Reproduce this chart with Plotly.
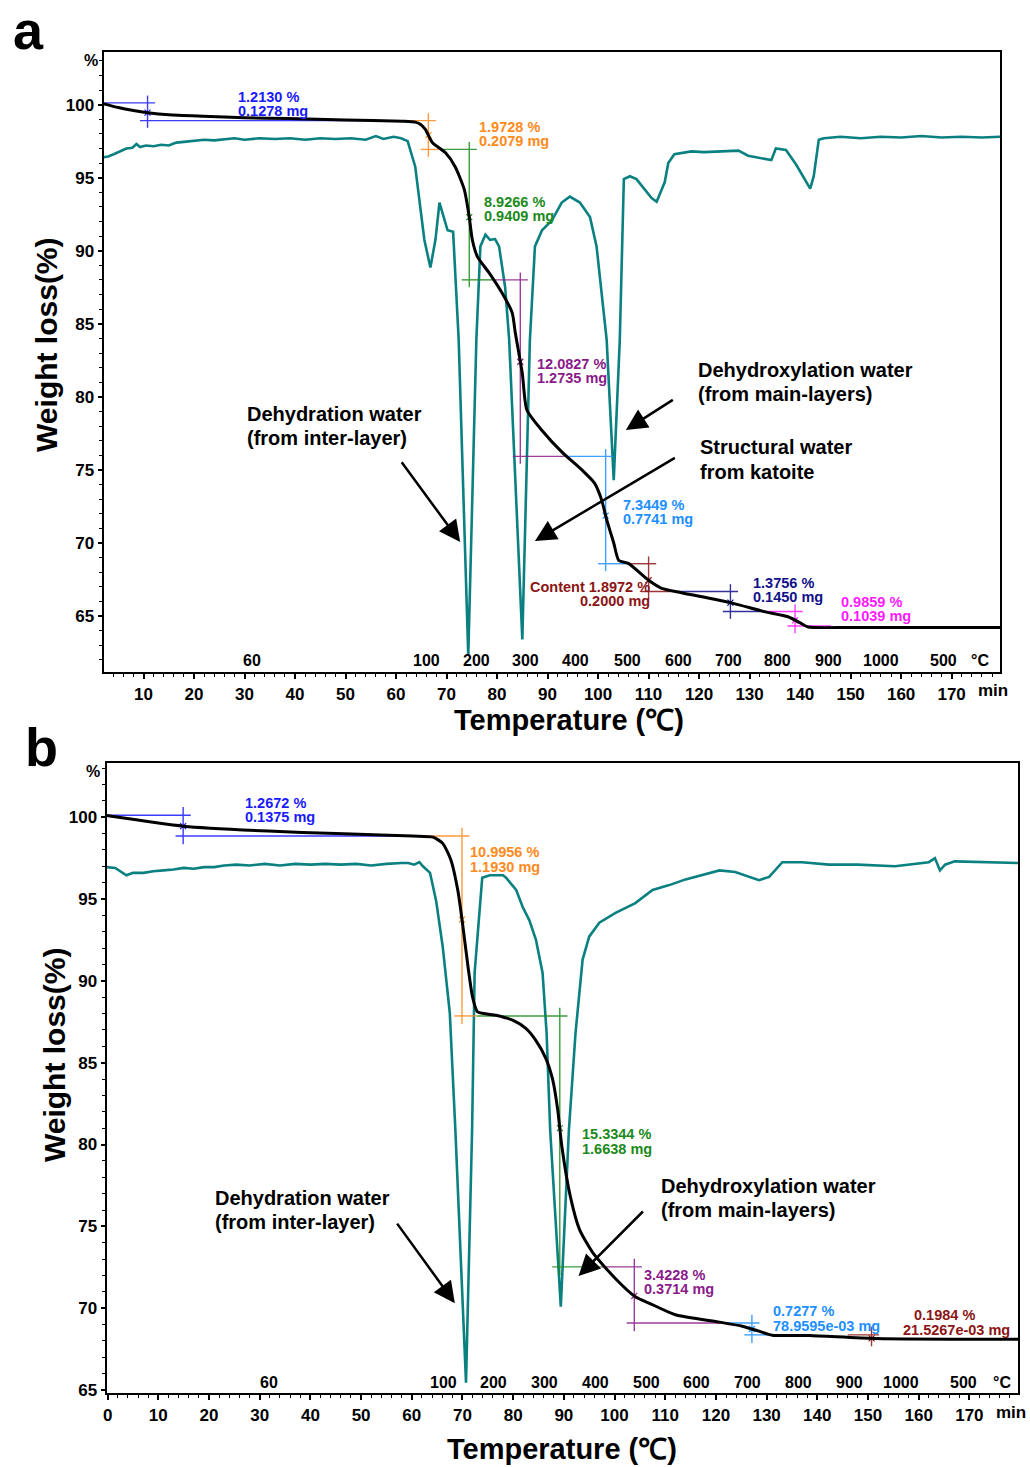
import numpy as np
import plotly.graph_objects as go

FONT = "Liberation Sans, Arial, sans-serif"

# ======================= DATA : panel a =======================
a_tg_time = [2.1, 5, 8, 10.8, 15, 21.8, 30, 38.6, 50, 61.3, 63.8, 64.8, 65.8, 67.2, 69.8, 71.7,
             73.5, 74.5, 75.1, 76.1, 78.4, 81, 83, 83.6, 85, 85.9, 88.9, 92.9, 96.8, 99.3, 100.7,
             101.7, 103.1, 104.1, 106, 110, 112.6, 116.5, 126.4, 132.9, 137.6, 140.2, 141.6,
             150, 179.6]
a_tg_weight = [100.05, 99.8, 99.6, 99.45, 99.3, 99.2, 99.1, 99.05, 98.95, 98.86, 98.8, 98.65,
               98.3, 97.4, 96.7, 95.75, 94.2, 92.3, 90.75, 89.6, 88.5, 87.1, 85.75, 84.4, 81.6,
               79.1, 77.7, 76.2, 75.0, 74.1, 72.95, 71.6, 70.0, 68.8, 68.6, 67.45, 66.9, 66.6,
               65.9, 65.3, 64.95, 64.5, 64.25, 64.22, 64.22]

a_dtg_time = [2.1, 3.0, 4.1, 5.5, 6.6, 7.8, 8.6, 9.3, 10.5, 12.0, 13.5, 15.0, 16.5, 18.0, 20, 22,
              24, 26, 28, 30, 33, 36, 39, 42, 45, 48, 51, 54, 56, 57.5, 59.5, 61, 62.3, 63.8,
              64.8, 65.6, 66.8, 67.8, 68.6, 69.4, 70.2, 71.3, 72.4, 74.3, 75.9, 76.7, 77.7,
              78.6, 79.6, 80.4, 81.6, 82.4, 85.0, 86.5, 87.5, 88.9, 90.9, 92.8, 94.4, 96.4,
              98.4, 99.7, 100.7, 101.7, 103.1, 104.3, 105.1, 106.3, 107.6, 109.2, 110.6, 111.6,
              113.2, 113.9, 115.1, 118.5, 121, 124.4, 127.8, 129.7, 133.3, 134.3, 135.2, 137.2,
              139.2, 141.2, 142.0, 142.7, 143.7, 144.7, 148, 152, 156, 160, 164, 168, 172,
              176, 179.6]
a_dtg_signal = [96.4, 96.45, 96.6, 96.85, 97.0, 97.05, 97.3, 97.1, 97.2, 97.15, 97.25, 97.2,
                97.4, 97.45, 97.55, 97.6, 97.55, 97.65, 97.7, 97.6, 97.7, 97.65, 97.7, 97.6,
                97.7, 97.65, 97.7, 97.6, 97.85, 97.65, 97.8, 97.7, 97.5, 95.75, 93.0, 90.75,
                88.85, 90.75, 93.3, 92.3, 91.4, 91.3, 83.9, 62.3, 83.9, 90.3, 91.1, 90.75,
                90.8, 90.3, 87.5, 83.9, 63.4, 83.9, 90.3, 91.4, 92.1, 93.3, 93.7, 93.3, 92.3,
                90.3, 87.1, 83.9, 74.3, 83.9, 94.9, 95.1, 94.9, 94.2, 93.6, 93.35, 94.7, 96.0,
                96.6, 96.8, 96.75, 96.8, 96.85, 96.5, 96.3, 96.2, 97.0, 96.9, 95.9, 94.65,
                94.25, 95.1, 97.6, 97.7, 97.8, 97.7, 97.8, 97.75, 97.85, 97.75, 97.8, 97.75,
                97.8]

a_step_start_level = 100.12
a_step_pct = [1.2130, 1.9728, 8.9266, 12.0827, 7.3449, 1.8972, 1.3756, 0.9859]
a_step_mg = [0.1278, 0.2079, 0.9409, 1.2735, 0.7741, 0.2000, 0.1450, 0.1039]
a_step_prefix = ["", "", "", "", "", "Content ", "", ""]
a_step_t_from = [-1.0, 61.3, 68.6, 79.0, 93.2, 106.0, 116.5, 132.3]
a_step_t_mid = [10.8, 66.4, 74.5, 84.6, 101.5, 110.0, 126.2, 139.0]
a_step_t_to = [61.3, 68.6, 79.0, 93.2, 106.0, 116.5, 132.3, 146.1]

# ======================= DATA : panel b =======================
b_tg_time = [-0.2, 15, 31.7, 45.1, 60.2, 64.2, 66.1, 67.7, 69.1, 70.1, 71.1, 72.0, 73.0, 76.6,
             79.9, 82.5, 84.4, 86.4, 87.8, 88.8, 89.6, 91.3, 93.1, 95.7, 100.2, 104.1, 106.9,
             112, 120.7, 125.2, 128.5, 131.1, 138.4, 151.4, 180]
b_tg_weight = [100.1, 99.45, 99.15, 99.0, 98.85, 98.78, 98.4, 97.4, 95.5, 93.3, 90.85, 89.0,
               88.1, 87.9, 87.6, 87.1, 86.4, 85.3, 83.96, 82.1, 79.9, 76.8, 74.8, 73.4, 71.8,
               70.7, 70.3, 69.6, 69.15, 68.9, 68.6, 68.35, 68.33, 68.15, 68.1]

b_dtg_time = [-0.2, 1.5, 3.7, 5.0, 7.1, 9, 11, 13, 15, 17, 19, 21, 23, 25.4, 28, 31, 34, 37,
              40, 43, 46, 49, 52, 55, 58, 59.3, 60.5, 61.5, 62.2, 63.6, 64.8, 66.1, 67.5,
              68.6, 70.7, 71.9, 72.4, 73.9, 75.4, 78.0, 78.6, 80.6, 81.9, 83.2, 84.5, 85.8,
              86.6, 87.3, 89.4, 91.0, 92.3, 93.7, 95.0, 97.0, 100.2, 104.1, 107.5, 110.8,
              114.0, 117.3, 120.7, 123.8, 126.6, 128.5, 130.5, 133.1, 137, 142.3, 148, 155.3,
              162, 163.2, 164.2, 165.2, 167.1, 172, 179.7]
b_dtg_signal = [96.95, 96.9, 96.45, 96.6, 96.6, 96.7, 96.75, 96.8, 96.9, 96.85, 96.95, 96.95,
                97.05, 97.1, 97.05, 97.15, 97.05, 97.15, 97.1, 97.15, 97.1, 97.15, 97.05,
                97.15, 97.2, 97.2, 97.1, 97.25, 97.0, 96.6, 94.9, 92.1, 88.05, 80.9, 65.45,
                80.9, 90.5, 96.3, 96.45, 96.45, 96.3, 95.55, 94.5, 93.7, 92.5, 90.5, 86.8,
                80.9, 70.1, 80.9, 86.8, 91.3, 92.7, 93.55, 94.15, 94.75, 95.55, 95.85, 96.2,
                96.45, 96.75, 96.65, 96.35, 96.15, 96.35, 97.25, 97.25, 97.1, 97.1, 97.0,
                97.25, 97.5, 96.75, 97.1, 97.3, 97.25, 97.2]

b_step_start_level = 100.12
b_step_pct = [1.2672, 10.9956, 15.3344, 3.4228, 0.7277, 0.1984]
b_step_mg = [0.1375, 1.1930, 1.6638, 0.3714, 0.0789595, 0.0215267]
b_step_prefix = ["", "", "", "", "", ""]
b_step_t_from = [-1.0, 60.1, 72.9, 97.4, 121.0, 146.0]
b_step_t_mid = [14.9, 69.9, 89.2, 103.9, 127.1, 150.7]
b_step_t_to = [60.1, 72.9, 97.4, 121.0, 130.8, 152.5]

# temperature scale labels (time position in min)
temp_text = ["60", "100", "200", "300", "400", "500", "600", "700", "800", "900", "1000",
             "500", "°C"]
a_temp_time = [31.5, 66.0, 75.9, 85.7, 95.6, 105.9, 115.9, 125.8, 135.6, 145.7, 156.0, 168.4,
               175.7]
b_temp_time = [31.9, 66.3, 76.2, 86.2, 96.3, 106.3, 116.1, 126.2, 136.2, 146.3, 156.5, 168.9,
               176.4]

time_ticks_a = list(range(10, 180, 10))
time_ticks_b = list(range(0, 180, 10))
weight_ticks = [65, 70, 75, 80, 85, 90, 95, 100]

# ======================= STYLE =======================
a_colors = ["#1a1aff", "#ff8a1c", "#1b8a1b", "#8a1a8a", "#1e8fff", "#8b1414", "#10108a",
            "#ff1aff"]
b_colors = ["#1a1aff", "#ff8a1c", "#1b8a1b", "#8a1a8a", "#1e8fff", "#8b1414"]
TEAL = "#0a8080"

# label positions (time, weight) for "pct" line and "mg" line
a_lab_x1 = [28.3, 76.1, 77.1, 87.5, 104.5, 110.6, 130.3, 147.7]
a_lab_x2 = a_lab_x1
a_lab_y1 = [100.55, 98.49, 93.36, 82.26, 72.6, 66.99, 67.26, 65.96]
a_lab_y2 = [99.59, 97.53, 92.4, 81.3, 71.64, 66.03, 66.3, 65.0]
a_lab_anchor = ["left", "left", "left", "left", "left", "right", "left", "left"]

b_lab_x1 = [26.7, 71.1, 93.1, 105.5, 130.8, 158.7]
b_lab_x2 = [26.7, 71.1, 93.1, 105.5, 130.8, 156.6]
b_lab_y1 = [100.86, 97.86, 80.64, 72.02, 69.82, 69.58]
b_lab_y2 = [100.0, 96.95, 79.72, 71.17, 68.91, 68.66]
b_lab_anchor = ["left"] * 6


def mg_text(v):
    if v < 0.1:
        return f"{v * 1000:.4f}e-03 mg"
    return f"{v:.4f} mg"


fig = go.Figure()


def add_panel(xa, ya, tg_t, tg_w, dtg_t, dtg_s, start, pct, t_from, t_mid, t_to, colors):
    xs = "x" if xa == 1 else f"x{xa}"
    ys = "y" if ya == 1 else f"y{ya}"
    fig.add_trace(go.Scatter(x=dtg_t, y=dtg_s, mode="lines", xaxis=xs, yaxis=ys,
                             line=dict(color=TEAL, width=2.6), hoverinfo="skip"))
    level = start
    ext_t, ext_y = 1.5, 0.5
    for i in range(len(pct)):
        up = level
        lo = level - pct[i]
        fig.add_trace(go.Scatter(
            x=[t_from[i], t_mid[i] + ext_t, None, t_mid[i], t_mid[i], None,
               t_mid[i] - ext_t, t_to[i]],
            y=[up, up, None, up + ext_y, lo - ext_y, None, lo, lo],
            mode="lines", xaxis=xs, yaxis=ys, opacity=0.85,
            line=dict(color=colors[i], width=1.4), hoverinfo="skip"))
        ym = float(np.interp(t_mid[i], tg_t, tg_w))
        fig.add_trace(go.Scatter(x=[t_mid[i]], y=[ym], mode="markers", xaxis=xs, yaxis=ys,
                                 marker=dict(symbol="x-thin", size=6, color=colors[i],
                                             line=dict(width=1.2, color=colors[i])),
                                 hoverinfo="skip"))
        level = lo
    fig.add_trace(go.Scatter(x=tg_t, y=tg_w, mode="lines", xaxis=xs, yaxis=ys,
                             line=dict(color="black", width=3, shape="spline", smoothing=0.6),
                             hoverinfo="skip"))


add_panel(1, 1, a_tg_time, a_tg_weight, a_dtg_time, a_dtg_signal, a_step_start_level,
          a_step_pct, a_step_t_from, a_step_t_mid, a_step_t_to, a_colors)
add_panel(2, 2, b_tg_time, b_tg_weight, b_dtg_time, b_dtg_signal, b_step_start_level,
          b_step_pct, b_step_t_from, b_step_t_mid, b_step_t_to, b_colors)

# page body margin is removed by post_script, so the figure fills the page
W, H = 1030, 1467
SY = 0.995   # observed vertical scale of the captured page


def px_x(p):
    return p / W


def px_y(p):
    return 1 - p / (H * SY)


xa_dom = [px_x(100), px_x(1000)]
ya_dom = [px_y(672), px_y(52)]
xb_dom = [px_x(103), px_x(1018)]
yb_dom = [px_y(1393), px_y(763)]

tickfont = dict(family=FONT, size=17, color="black", weight="bold")

common_x = dict(showline=True, mirror=True, linecolor="black", linewidth=2, ticks="outside",
                ticklen=5, tickwidth=1.5, tickcolor="black", showgrid=False, zeroline=False,
                tickfont=tickfont,
                minor=dict(dtick=2, tick0=0, ticks="outside", ticklen=3, tickcolor="black",
                           tickwidth=1))
common_y = dict(showline=True, mirror=True, linecolor="black", linewidth=2, ticks="outside",
                ticklen=4, tickwidth=1.5, tickcolor="black", showgrid=False, zeroline=False,
                tickfont=tickfont, tickvals=weight_ticks,
                minor=dict(dtick=1, tick0=0, ticks="outside", ticklen=3, tickcolor="black",
                           tickwidth=1))

fig.update_layout(
    width=W, height=H, autosize=False,
    margin=dict(l=0, r=0, t=0, b=0),
    paper_bgcolor="white", plot_bgcolor="white", showlegend=False,
    xaxis=dict(domain=xa_dom, anchor="y", range=[2.1, 179.6], tickvals=time_ticks_a,
               **common_x),
    yaxis=dict(domain=ya_dom, anchor="x", range=[61.16, 103.6], **common_y),
    xaxis2=dict(domain=xb_dom, anchor="y2", range=[-0.2, 179.6], tickvals=time_ticks_b,
                **common_x),
    yaxis2=dict(domain=yb_dom, anchor="x2", range=[64.8, 103.3], **common_y),
)

ann = []


def txt(x, y, text, size, xref="paper", yref="paper", xanchor="center", yanchor="middle",
        color="black", angle=0, yshift=0):
    ann.append(dict(x=x, y=y, xref=xref, yref=yref, text=text, showarrow=False,
                    xanchor=xanchor, yanchor=yanchor, textangle=angle, yshift=yshift,
                    font=dict(family=FONT, size=size, color=color, weight="bold")))


# temperature scale row just above each time axis
for t, s in zip(a_temp_time, temp_text):
    txt(t, 0, s, 16, xref="x", yref="y domain", yanchor="bottom", yshift=1)
for t, s in zip(b_temp_time, temp_text):
    txt(t, 0, s, 16, xref="x2", yref="y2 domain", yanchor="bottom", yshift=0)

# panel letters
txt(px_x(25), px_y(30), "a", 54)
txt(px_x(38), px_y(747), "b", 54)
# axis titles
txt(px_x(42), px_y(345), "Weight loss(%)", 30, angle=-90)
txt(px_x(50), px_y(1055), "Weight loss(%)", 30, angle=-90)
txt(px_x(567), px_y(720), "Temperature (℃)", 29)
txt(px_x(560), px_y(1449), "Temperature (℃)", 29)
# unit labels
txt(px_x(87), px_y(60), "%", 16)
txt(px_x(89), px_y(771), "%", 16)
txt(px_x(993), px_y(690), "min", 17)
txt(px_x(1011), px_y(1412), "min", 17)


# step labels
def step_labels(xr, yr, pct, mg, prefix, x1, x2, y1, y2, anchors, colors):
    for i in range(len(pct)):
        txt(x1[i], y1[i], f"{prefix[i]}{pct[i]:.4f} %", 14.5, xref=xr, yref=yr,
            xanchor=anchors[i], color=colors[i])
        txt(x2[i], y2[i], mg_text(mg[i]), 14.5, xref=xr, yref=yr, xanchor=anchors[i],
            color=colors[i])


step_labels("x", "y", a_step_pct, a_step_mg, a_step_prefix, a_lab_x1, a_lab_x2, a_lab_y1,
            a_lab_y2, a_lab_anchor, a_colors)
step_labels("x2", "y2", b_step_pct, b_step_mg, b_step_prefix, b_lab_x1, b_lab_x2, b_lab_y1,
            b_lab_y2, b_lab_anchor, b_colors)

# descriptive labels
txt(30.1, 78.84, "Dehydration water", 20, xref="x", yref="y", xanchor="left")
txt(30.1, 77.19, "(from inter-layer)", 20, xref="x", yref="y", xanchor="left")
txt(119.3, 81.85, "Dehydroxylation water", 20, xref="x", yref="y", xanchor="left")
txt(119.3, 80.2, "(from main-layers)", 20, xref="x", yref="y", xanchor="left")
txt(119.7, 76.58, "Structural water", 20, xref="x", yref="y", xanchor="left")
txt(119.7, 74.86, "from katoite", 20, xref="x", yref="y", xanchor="left")

txt(20.8, 76.73, "Dehydration water", 20, xref="x2", yref="y2", xanchor="left")
txt(20.8, 75.26, "(from inter-layer)", 20, xref="x2", yref="y2", xanchor="left")
txt(108.8, 77.46, "Dehydroxylation water", 20, xref="x2", yref="y2", xanchor="left")
txt(108.8, 75.99, "(from main-layers)", 20, xref="x2", yref="y2", xanchor="left")


def arrow(xr, yr, tip, tail):
    ann.append(dict(x=tip[0], y=tip[1], ax=tail[0], ay=tail[1], xref=xr, yref=yr,
                    axref=xr, ayref=yr, text="", showarrow=True, arrowhead=2,
                    arrowsize=1.7, arrowwidth=2.5, arrowcolor="black", standoff=0))


arrow("x", "y", (72.7, 70.07), (60.9, 75.62))
arrow("x", "y", (105.5, 77.74), (115.1, 79.86))
arrow("x", "y", (87.5, 70.14), (115.5, 75.89))
arrow("x2", "y2", (68.5, 70.31), (56.9, 75.26))
arrow("x2", "y2", (92.9, 71.96), (105.9, 76.0))

fig.update_layout(annotations=ann)
fig.write_html("out.html", config={"displayModeBar": False},
               post_script="document.body.style.margin='0';"
                           "document.body.style.overflow='hidden';")
